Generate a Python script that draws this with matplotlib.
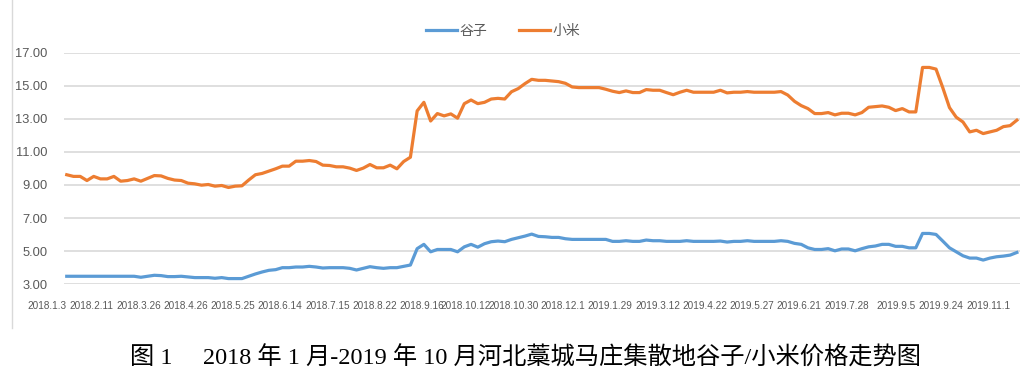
import matplotlib
matplotlib.use('Agg')
import matplotlib.pyplot as plt
from matplotlib.lines import Line2D

# price series, yuan/kg
millet_grain = [
    3.48, 3.48, 3.48, 3.48, 3.48, 3.48, 3.48, 3.48, 3.48, 3.48,
    3.48, 3.42, 3.48, 3.54, 3.52, 3.46, 3.46, 3.48, 3.44, 3.40,
    3.40, 3.40, 3.36, 3.40, 3.34, 3.34, 3.34, 3.48, 3.62, 3.74,
    3.84, 3.88, 4.00, 4.00, 4.04, 4.04, 4.08, 4.04, 3.98, 4.00,
    4.00, 4.00, 3.96, 3.86, 3.96, 4.06, 4.00, 3.96, 4.00,
    4.00, 4.08, 4.16, 5.15, 5.41, 4.96, 5.10, 5.10, 5.10, 4.96,
    5.26, 5.41, 5.24, 5.45, 5.57, 5.61, 5.57, 5.71, 5.81, 5.91,
    6.03, 5.89, 5.87, 5.83, 5.83, 5.75, 5.71, 5.71, 5.71, 5.71,
    5.71, 5.71, 5.59, 5.59, 5.63, 5.59, 5.59, 5.67, 5.63, 5.63,
    5.59, 5.59, 5.59, 5.63, 5.59, 5.59, 5.59, 5.59,
    5.61, 5.55, 5.59, 5.59, 5.63, 5.59, 5.59, 5.59, 5.59, 5.63,
    5.59, 5.47, 5.41, 5.20, 5.10, 5.10, 5.15, 5.02, 5.13, 5.13,
    5.02, 5.15, 5.26, 5.31, 5.41, 5.41, 5.29, 5.29, 5.20, 5.20,
    6.07, 6.07, 6.01, 5.61, 5.20, 4.96, 4.72, 4.58, 4.58, 4.46,
    4.58, 4.66, 4.70, 4.76, 4.92,
]

millet = [
    9.62, 9.52, 9.52, 9.27, 9.52, 9.37, 9.37, 9.52, 9.23, 9.27,
    9.37, 9.23, 9.40, 9.57, 9.55, 9.40, 9.30, 9.27, 9.11, 9.07,
    8.99, 9.03, 8.93, 8.97, 8.85, 8.93, 8.95, 9.30, 9.62, 9.70,
    9.84, 9.98, 10.14, 10.14, 10.44, 10.44, 10.48, 10.42, 10.20, 10.18,
    10.10, 10.10, 10.02, 9.88, 10.02, 10.24, 10.04, 10.04, 10.20,
    9.98, 10.42, 10.68, 13.48, 14.00, 12.87, 13.32, 13.18, 13.30, 13.04,
    13.92, 14.14, 13.92, 14.00, 14.20, 14.24, 14.20, 14.64, 14.83, 15.13,
    15.39, 15.33, 15.33, 15.29, 15.25, 15.15, 14.93, 14.89, 14.89, 14.89,
    14.89, 14.79, 14.67, 14.59, 14.69, 14.59, 14.59, 14.77, 14.73, 14.73,
    14.59, 14.46, 14.61, 14.73, 14.61, 14.61, 14.61, 14.61,
    14.73, 14.57, 14.61, 14.61, 14.65, 14.61, 14.61, 14.61, 14.61, 14.65,
    14.44, 14.06, 13.80, 13.62, 13.32, 13.32, 13.38, 13.24, 13.34, 13.34,
    13.24, 13.38, 13.70, 13.74, 13.78, 13.70, 13.50, 13.62, 13.42, 13.42,
    16.11, 16.11, 16.01, 14.89, 13.68, 13.10, 12.81, 12.21, 12.31, 12.11,
    12.21, 12.31, 12.53, 12.59, 12.92,
]

# every 7th category is labelled
date_labels = [
    '2018.1.3', '2018.2.11', '2018.3.26', '2018.4.26', '2018.5.25',
    '2018.6.14', '2018.7.15', '2018.8.22', '2018.9.16', '2018.10.12',
    '2018.10.30', '2018.12.1', '2019.1.29', '2019.3.12', '2019.4.22',
    '2019.5.27', '2019.6.21', '2019.7.28', '2019.9.5', '2019.9.24',
    '2019.11.1',
]
label_step = 7
y_ticks = [3, 5, 7, 9, 11, 13, 15, 17]

fig = plt.figure(figsize=(10.33, 3.82), dpi=100)
ax = fig.add_axes([0.062, 0.256, 0.925, 0.606])

x = list(range(len(millet)))
ax.plot(x, millet_grain, color='#5B9BD5', lw=2.3, solid_joinstyle='round')
ax.plot(x, millet, color='#ED7D31', lw=2.3, solid_joinstyle='round')

ax.set_xlim(-0.4, len(millet) - 0.6)
ax.set_ylim(3, 17)
ax.set_yticks(y_ticks)
ax.set_yticklabels([f'{v:.2f}' for v in y_ticks], family='Liberation Sans',
                   fontsize=9.3, color='#595959')
ax.set_xticks([i * label_step for i in range(len(date_labels))])
ax.set_xticklabels(date_labels, family='Liberation Sans', fontsize=7.2,
                   color='#595959', ha='right')
ax.tick_params(axis='both', length=0)
ax.tick_params(axis='y', pad=12)
ax.tick_params(axis='x', pad=12)
ax.grid(axis='y', color='#D9D9D9', lw=1.2)
ax.set_axisbelow(True)
for s in ax.spines.values():
    s.set_visible(False)

handles = [Line2D([], [], color='#5B9BD5', lw=2.3),
           Line2D([], [], color='#ED7D31', lw=2.3)]
leg = fig.legend(handles, ['谷子', '小米'], loc='center',
                 bbox_to_anchor=(503 / 1033, 1 - 31 / 382), ncol=2,
                 frameon=False, handlelength=2.2, handletextpad=0.2,
                 columnspacing=2.3, prop={'family': 'Noto Sans CJK SC', 'size': 10})
for t in leg.get_texts():
    t.set_color('#595959')

# chart border on the left
fig.add_artist(Line2D([12 / 1033, 12 / 1033], [1, 1 - 328 / 382],
                      color='#D9D9D9', lw=1))

fig.text(525 / 1033, 1 - 358 / 382,
         '图 1\u3000 2018 年 1 月-2019 年 10 月河北藁城马庄集散地谷子/小米价格走势图',
         ha='center', va='center', fontsize=17.5,
         family=['Liberation Serif', 'Noto Sans CJK SC'])

fig.savefig('out.png', dpi=100)
